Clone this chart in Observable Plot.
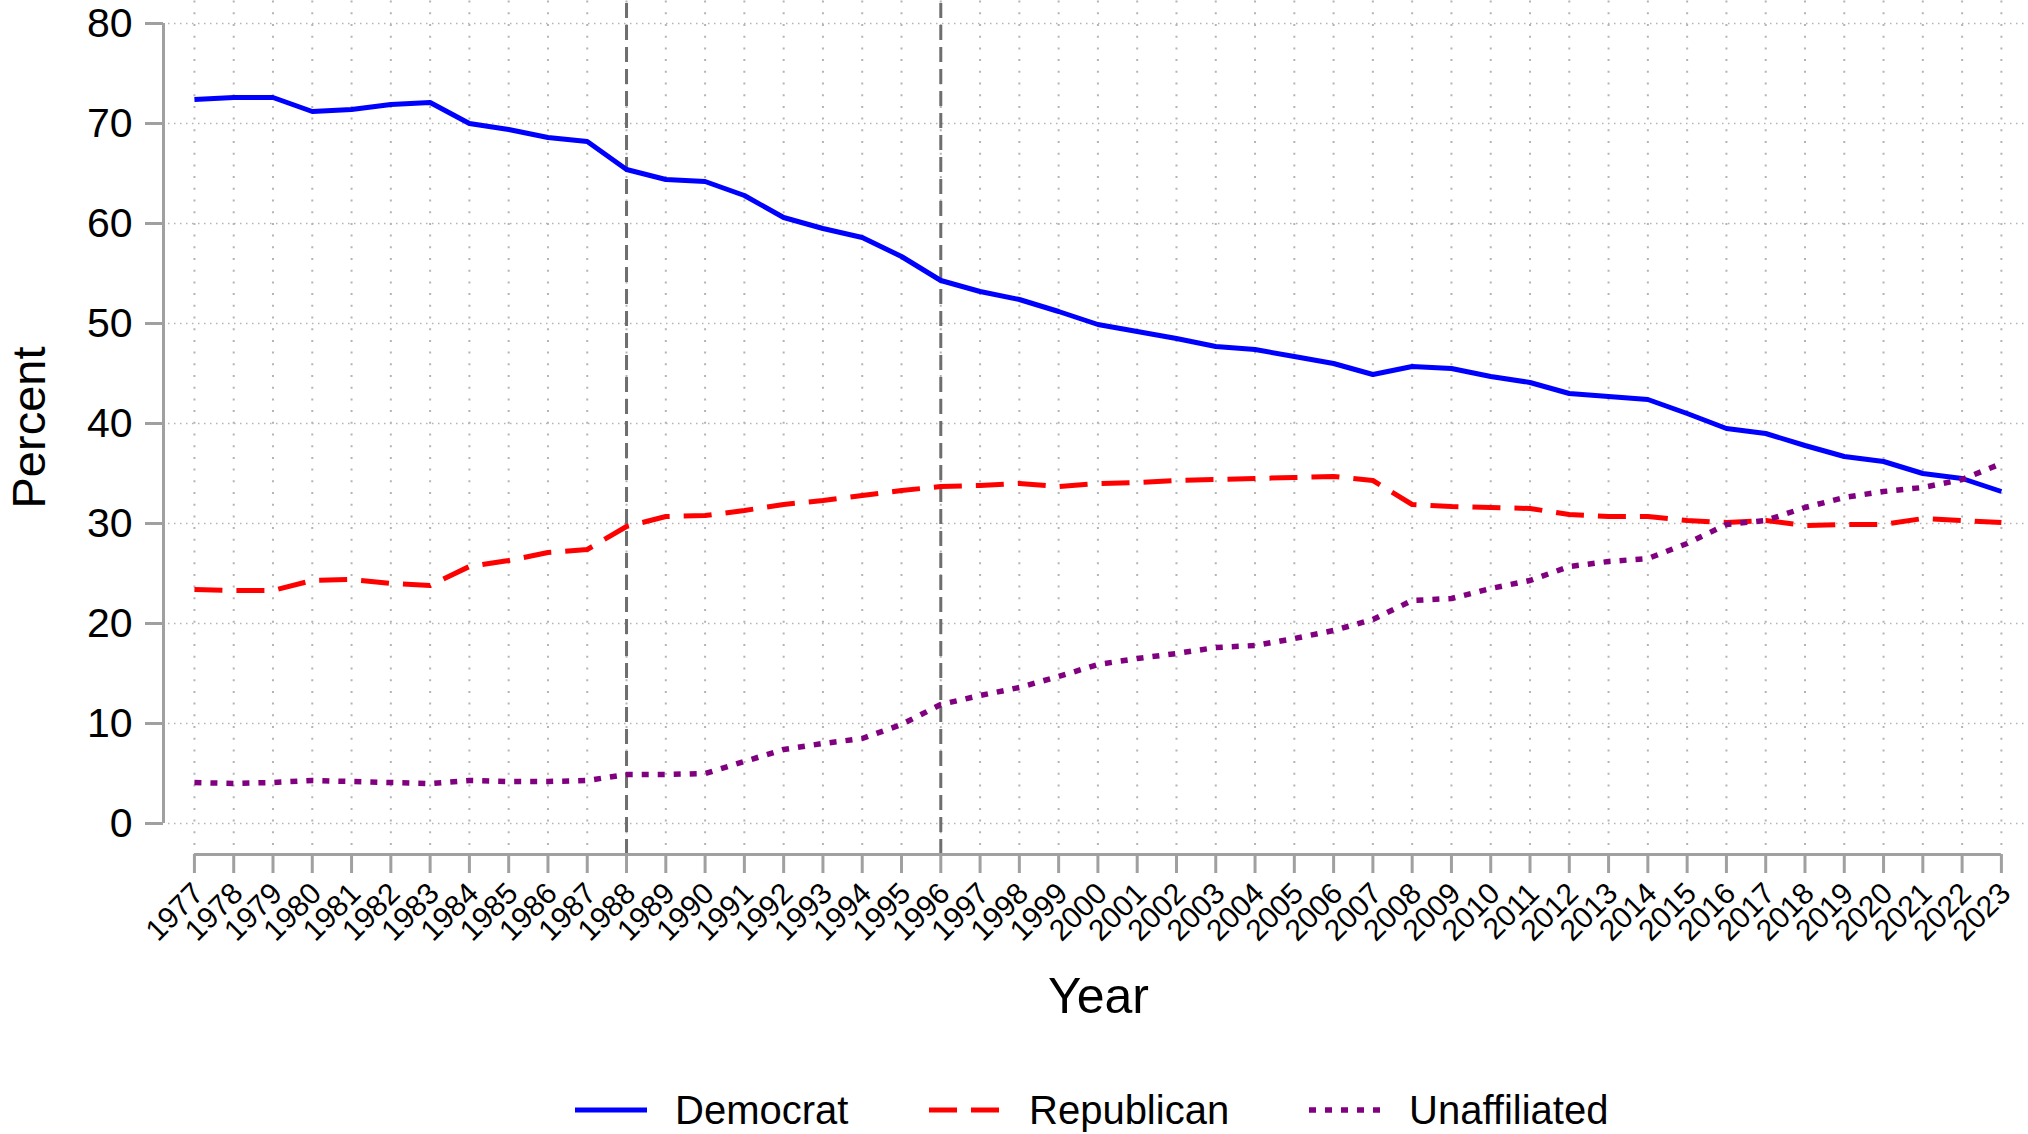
<!DOCTYPE html>
<html>
<head>
<meta charset="utf-8">
<script src="https://cdn.jsdelivr.net/npm/d3@7"></script>
<script src="https://cdn.jsdelivr.net/npm/@observablehq/plot@0.6"></script>
<style>
  html, body { margin: 0; padding: 0; background: #fff; width: 2028px; height: 1134px; overflow: hidden;
    font-family: "Liberation Sans", Arial, Helvetica, sans-serif; }
  #legend { position: relative; width: 2028px; height: 74px; }
  .item { position: absolute; top: 25px; height: 50px; display: flex; align-items: center; font-size: 40px; color: #000; white-space: nowrap; }
  .item svg { margin-right: 28px; }
</style>
</head>
<body>
<div id="chart"></div>
<div id="legend"></div>
<script>
// ---- data ----
const years = [1977, 1978, 1979, 1980, 1981, 1982, 1983, 1984, 1985, 1986,
  1987, 1988, 1989, 1990, 1991, 1992, 1993, 1994, 1995, 1996,
  1997, 1998, 1999, 2000, 2001, 2002, 2003, 2004, 2005, 2006,
  2007, 2008, 2009, 2010, 2011, 2012, 2013, 2014, 2015, 2016,
  2017, 2018, 2019, 2020, 2021, 2022, 2023];

const democrat = [72.4, 72.6, 72.6, 71.2, 71.4, 71.9, 72.1, 70.0, 69.4, 68.6,
  68.2, 65.4, 64.4, 64.2, 62.8, 60.6, 59.5, 58.6, 56.7, 54.3,
  53.2, 52.4, 51.2, 49.9, 49.2, 48.5, 47.7, 47.4, 46.7, 46.0,
  44.9, 45.7, 45.5, 44.7, 44.1, 43.0, 42.7, 42.4, 41.0, 39.5,
  39.0, 37.8, 36.7, 36.2, 35.0, 34.5, 33.2];

const republican = [23.4, 23.3, 23.3, 24.3, 24.4, 24.0, 23.8, 25.7, 26.3, 27.1,
  27.4, 29.7, 30.7, 30.8, 31.3, 31.9, 32.3, 32.8, 33.3, 33.7,
  33.8, 34.0, 33.7, 34.0, 34.1, 34.3, 34.4, 34.5, 34.6, 34.7,
  34.3, 31.9, 31.7, 31.6, 31.5, 30.9, 30.7, 30.7, 30.3, 30.1,
  30.3, 29.8, 29.9, 29.9, 30.5, 30.3, 30.1];

const unaffiliated = [4.1, 4.0, 4.1, 4.3, 4.2, 4.1, 4.0, 4.3, 4.2, 4.2,
  4.3, 4.9, 4.9, 5.0, 6.2, 7.4, 8.0, 8.5, 9.9, 11.9,
  12.8, 13.6, 14.7, 15.9, 16.5, 17.0, 17.6, 17.8, 18.5, 19.3,
  20.4, 22.3, 22.5, 23.5, 24.3, 25.7, 26.2, 26.5, 28.0, 29.9,
  30.3, 31.6, 32.6, 33.2, 33.6, 34.4, 36.0];

const seriesNames = ["Democrat", "Republican", "Unaffiliated"];
const seriesColors = ["#0000ff", "#ff0000", "#800080"];
const seriesDash = [null, "28,14", "7,9"];
const seriesWidth = [5, 5, 5.5];
const refYears = [1988, 1996];
const yTicks = [0, 10, 20, 30, 40, 50, 60, 70, 80];
const xDomain = [1976.34, 2023.69];
const yDomain = [-3.1, 82.3];

// ---- table ----
const valuesBySeries = [democrat, republican, unaffiliated];
const rows = [];
seriesNames.forEach((name, s) => {
  years.forEach((yr, i) => rows.push({series: name, year: yr, value: valuesBySeries[s][i]}));
});

const W = 2028, H = 1060;
const axisGray = "#a0a0a0";
const gridGray = "#b4b4b4";

const lineMarks = seriesNames.map((name, s) =>
  Plot.line(rows.filter(d => d.series === name), {
    x: "year", y: "value",
    stroke: seriesColors[s],
    strokeWidth: seriesWidth[s],
    strokeDasharray: seriesDash[s] || undefined,
    strokeLinejoin: "round",
    strokeLinecap: "butt"
  })
);

const chart = Plot.plot({
  width: W,
  height: H,
  marginLeft: 168,
  marginRight: 0,
  marginTop: 0,
  marginBottom: H - 854,
  style: {fontFamily: "'Liberation Sans', Arial, Helvetica, sans-serif", background: "#fff", color: "#000"},
  x: {domain: xDomain, axis: null},
  y: {domain: yDomain, axis: null},
  marks: [
    // horizontal grid
    Plot.ruleY(yTicks, {stroke: gridGray, strokeWidth: 1.5, strokeDasharray: "1.5,4.5"}),
    // vertical grid
    Plot.ruleX(years, {y1: -2.2, y2: yDomain[1], stroke: gridGray, strokeWidth: 2, strokeDasharray: "2,9.7"}),
    // reference lines
    Plot.ruleX(refYears, {y1: yDomain[0], y2: yDomain[1], stroke: "#6e6e6e", strokeWidth: 3, strokeDasharray: "15,7"}),
    // y axis line + ticks + labels
    Plot.ruleX([xDomain[0]], {y1: 0, y2: 80, dx: -5, stroke: axisGray, strokeWidth: 3}),
    Plot.axisY({ticks: yTicks, tickSize: 18, tickPadding: 13, dx: -5, fontSize: 41, stroke: axisGray, strokeWidth: 3, fill: "#000", label: null}),
    // x axis line + ticks
    Plot.ruleY([yDomain[0]], {x1: years[0], x2: years[years.length - 1], stroke: axisGray, strokeWidth: 3}),
    Plot.axisX({ticks: years, tickSize: 19, tickFormat: () => null, stroke: axisGray, strokeWidth: 3, label: null}),
    // x tick labels (rotated)
    Plot.text(years, {x: d => d, text: d => String(d), frameAnchor: "bottom", dx: 4, dy: 34,
      rotate: -45, textAnchor: "end", lineAnchor: "middle", fontSize: 30, fill: "#000"}),
    // axis titles
    Plot.text(["Percent"], {frameAnchor: "left", dx: -139, rotate: -90, fontSize: 47, fill: "#000",
      textAnchor: "middle", lineAnchor: "middle"}),
    Plot.text(["Year"], {frameAnchor: "bottom", dy: 158, fontSize: 50, fill: "#000", lineAnchor: "bottom"}),
    ...lineMarks
  ]
});
document.getElementById("chart").appendChild(chart);

// ---- legend ----
const legendLeft = [575, 929, 1309];
const legend = document.getElementById("legend");
seriesNames.forEach((name, s) => {
  const item = document.createElement("div");
  item.className = "item";
  item.style.left = legendLeft[s] + "px";
  const dash = seriesDash[s] ? `stroke-dasharray="${seriesDash[s]}"` : "";
  item.innerHTML = `<svg width="72" height="12"><line x1="0" y1="6" x2="72" y2="6" stroke="${seriesColors[s]}" stroke-width="${seriesWidth[s]}" ${dash}/></svg><span>${name}</span>`;
  legend.appendChild(item);
});
</script>
</body>
</html>
